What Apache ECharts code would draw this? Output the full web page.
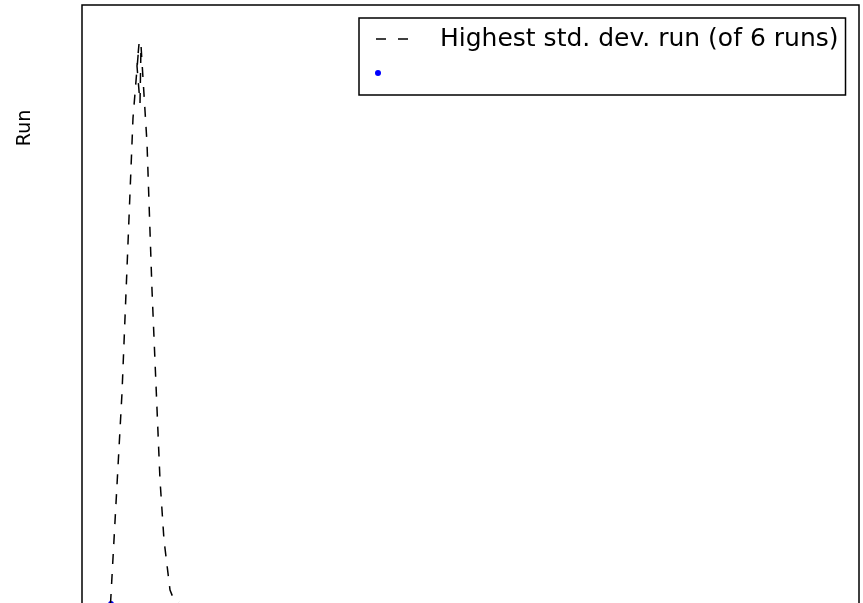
<!DOCTYPE html>
<html>
<head>
<meta charset="utf-8">
<script src="https://cdn.jsdelivr.net/npm/echarts@6/dist/echarts.min.js"></script>
<style>
  html, body { margin: 0; padding: 0; background: #fff; }
  #chart { width: 863px; height: 603px; }
</style>
</head>
<body>
<div id="chart"></div>
<script>
// dashed run
const runX = [2.85, 4.0, 5.1, 5.7, 5.5, 5.8, 5.9, 6.0, 6.5, 7.0, 7.8, 8.2, 8.8, 9.2, 9.7];
const runY = [0, 21.1, 48.6, 56.0, 53.8, 50.1, 55.9, 54.2, 46.1, 31.4, 12.4, 6.4, 1.4, 0.4, 0.2];
// single blue point
const pointX = [2.9];
const pointY = [0];
const lineName = 'Highest std. dev. run (of 6 runs)';
const pointName = ' ';
const yLabel = 'Run';

const lineIcon = 'path://M0,0M60,6M1,2.25h10v1.5h-10zM23,2.25h10v1.5h-10z';
const dotIcon = 'path://M60,6M0,3a3,3 0 1,0 6,0a3,3 0 1,0 -6,0z';

let myChart = echarts.init(document.getElementById('chart'));
myChart.setOption({
  animation: false,
  grid: {
    left: 82, top: 5, right: 4, height: 616,
    outerBoundsMode: 'none',
    show: true, borderColor: '#000', borderWidth: 1.5, backgroundColor: '#fff'
  },
  xAxis: {
    type: 'value', min: 0, max: 77.7,
    axisLine: { show: false }, axisTick: { show: false },
    axisLabel: { show: false }, splitLine: { show: false }
  },
  yAxis: {
    type: 'value', min: -1.7, max: 59.9,
    axisLine: { show: false }, axisTick: { show: false },
    axisLabel: { show: false }, splitLine: { show: false }
  },
  legend: {
    orient: 'vertical',
    left: 359, top: 18,
    padding: [7, 7, 8, 16],
    itemGap: 6,
    itemWidth: 60, itemHeight: 6,
    backgroundColor: '#fff',
    borderColor: '#000', borderWidth: 1.5, borderRadius: 0,
    textStyle: { fontFamily: 'DejaVu Sans', fontSize: 25, color: '#000', lineHeight: 28 },
    data: [
      { name: lineName, icon: lineIcon },
      { name: pointName, icon: dotIcon, itemStyle: { opacity: 1 } }
    ]
  },
  graphic: [{
    type: 'text', x: 25, y: 128, rotation: Math.PI / 2,
    style: { text: yLabel, font: '19px "DejaVu Sans"', fill: '#000', align: 'center', verticalAlign: 'middle' }
  }],
  series: [
    {
      name: lineName,
      type: 'line',
      data: runX.map((x, i) => [x, runY[i]]),
      symbol: 'none',
      color: '#000',
      lineStyle: { color: '#000', width: 1.5, type: [10, 10] }
    },
    {
      name: pointName,
      type: 'scatter',
      data: pointX.map((x, i) => [x, pointY[i]]),
      symbolSize: 6,
      color: '#0000ff',
      itemStyle: { color: '#0000ff', opacity: 1 }
    }
  ]
});
</script>
</body>
</html>
